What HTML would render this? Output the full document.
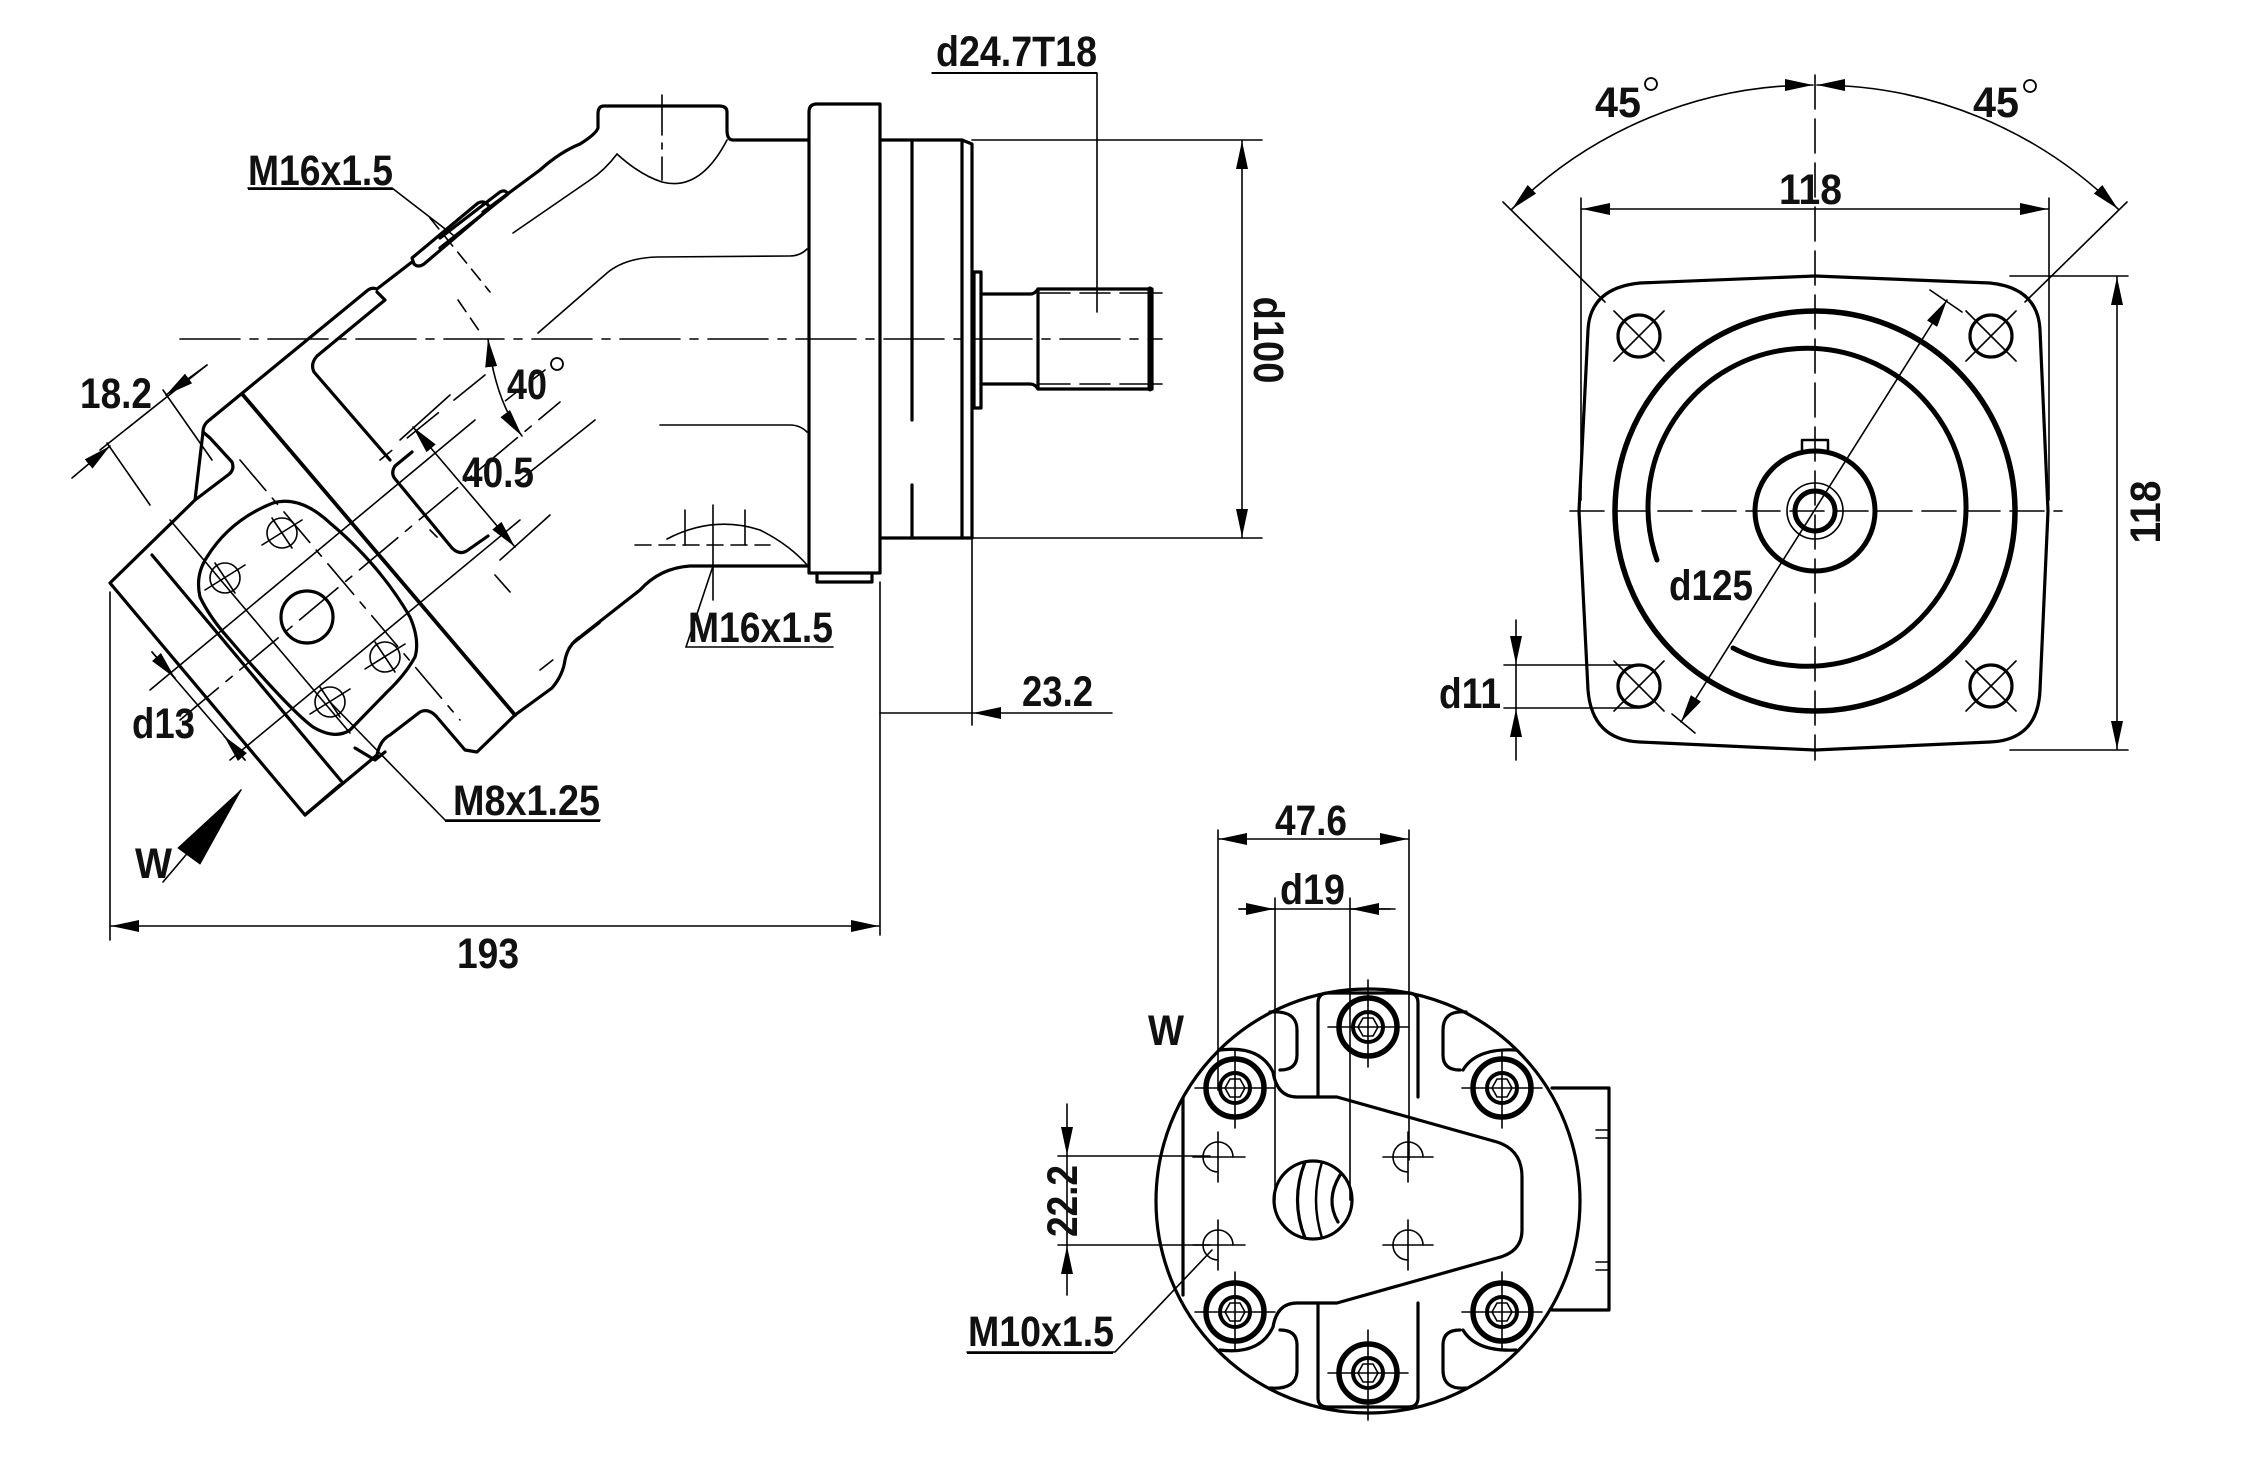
<!DOCTYPE html>
<html><head><meta charset="utf-8"><style>
html,body{margin:0;padding:0;background:#fff}
svg{display:block}
text{font-family:"Liberation Sans Narrow","Liberation Sans",sans-serif;font-weight:bold;fill:#111}
</style></head><body>
<svg width="2259" height="1482" viewBox="0 0 2259 1482" xmlns="http://www.w3.org/2000/svg">
<defs>
<marker id="a" markerUnits="userSpaceOnUse" markerWidth="30" markerHeight="12" refX="28" refY="6" orient="auto-start-reverse"><path d="M0,0 L28,6 L0,12 z" fill="#000"/></marker>
</defs>
<g fill="none" stroke="#000" stroke-linecap="round" stroke-linejoin="round">

<g stroke-width="3.2">
<path d="M809,112 Q809,104 817,104 L880,104 L880,573 L809,573 Z"/>
<path d="M817,573 L817,582 L872,582 L872,573"/>
<path d="M880,140 L962,140 L962,538 L880,538"/>
<line x1="912" y1="140" x2="912" y2="420"/><line x1="912" y1="485" x2="912" y2="538"/>
<path d="M962,140 L972,144 L972,538 L962,538"/>
<path d="M974,272 L981,272 L981,408 L974,408 Z"/>
<path d="M981,294 L1030,294 Q1035,294 1038,289 L1152,289 L1152,389 L1038,389 Q1035,384 1030,384 L981,384"/>
<line x1="1038" y1="289" x2="1038" y2="389"/>
<line x1="1150" y1="289" x2="1150" y2="389" stroke-width="5"/>
</g>
<g stroke-width="1.6">
<line x1="972" y1="140" x2="1262" y2="140"/><line x1="972" y1="538" x2="1262" y2="538"/>
<line x1="1152" y1="293" x2="1162" y2="293"/><line x1="1152" y1="384" x2="1162" y2="384"/>
<line x1="1040" y1="293" x2="1150" y2="293" stroke-dasharray="30,10"/>
<line x1="1040" y1="384" x2="1150" y2="384" stroke-dasharray="30,10"/>
<line x1="180" y1="339" x2="1162" y2="339" stroke-dasharray="60,10,8,10"/>
<polyline points="932,73 1097,73 1097,312"/>
<line x1="1242" y1="141" x2="1242" y2="537" marker-start="url(#a)" marker-end="url(#a)"/>
<line x1="880" y1="582" x2="880" y2="935"/><line x1="972" y1="538" x2="972" y2="725"/>
<line x1="880" y1="713" x2="972" y2="713"/>
<line x1="1112" y1="713" x2="973" y2="713" marker-end="url(#a)"/>
<line x1="110" y1="592" x2="110" y2="940"/>
<line x1="111" y1="926" x2="879" y2="926" marker-start="url(#a)" marker-end="url(#a)"/>
</g>

<g stroke-width="3.2">
<path d="M809,140 L733,140 Q727,140 727,130 L727,112 Q727,106 719,106 L604,106 Q598,106 598,114 L598,128 Q596,134 580,144 Q560,152 540,170 L483,212"/>
<path d="M412,258 L478,203 Q484,200 488,205 L490,208 L424,264 Q418,268 414,264 Z"/>
<path d="M440,238 L500,192 Q505,189 508,194 L440,248"/>
<path d="M412,262 L377,289 Q372,287 368,290 L207,422 Q203,426 203,432 L195,500 L110,583 L305,815 L340,785"/>
<path d="M243,395 L515,715" stroke-width="3.8"/>
<path d="M152,555 L342,782"/>
<path d="M203,432 L210,438 L232,462 Q235,470 228,475 L195,500"/>
<path d="M377,292 L385,300 L317,356 Q310,364 314,372 L390,460"/>
<path d="M412,452 L395,466 Q390,474 396,480 L452,548 Q460,556 468,550 L488,536"/>
<path d="M305,815 L377,755 Q380,740 390,735 L420,712 Q428,708 436,716 L465,750 L477,752 L515,715 L552,688 Q563,675 565,660 Q568,645 580,637 L640,590 Q660,568 690,566 L809,566"/>
<path d="M273,503 Q300,495 330,523 Q380,565 410,617 Q420,640 415,657 Q405,675 387,692 L350,730 Q335,740 313,727 Q290,710 230,640 Q210,618 200,597 Q195,575 207,557 Q230,520 273,503 Z"/>
<circle cx="307" cy="617" r="26"/>
<path d="M355,748 L375,760 L385,752"/>
</g>
<g stroke-width="1.6">
<circle cx="282" cy="533" r="15"/><circle cx="225" cy="578" r="15"/><circle cx="385" cy="657" r="15"/><circle cx="330" cy="702" r="15"/>
<path d="M262,545 L302,520 M272,518 L292,548 M205,590 L245,565 M215,563 L235,593 M365,669 L405,644 M375,642 L395,672 M310,714 L350,689 M320,687 L340,717"/>
<line x1="180" y1="720" x2="560" y2="402" stroke-dasharray="50,10,8,10"/>
<line x1="230" y1="760" x2="520" y2="520"/>
<line x1="150" y1="690" x2="475" y2="420"/>
<line x1="240" y1="460" x2="460" y2="720" stroke-dasharray="40,10,8,10"/>
<line x1="170" y1="520" x2="350" y2="733"/>
<path d="M807,249 Q800,256 790,256 L657,257 Q625,258 607,273 L538,333"/>
<path d="M807,432 Q800,425 790,425 L660,425"/>
<path d="M513,233 L590,180 Q605,170 617,154"/>
<path d="M617,154 Q640,175 662,182 Q700,192 727,140"/>
<line x1="662" y1="95" x2="662" y2="180" stroke-dasharray="40,8,6,8"/>
<path d="M667,539 Q713,515 760,530 Q790,545 808,566"/>
<line x1="713" y1="505" x2="713" y2="600"/>
<line x1="685" y1="510" x2="685" y2="545"/><line x1="745" y1="510" x2="745" y2="545"/>
<line x1="635" y1="545" x2="770" y2="545" stroke-dasharray="16,8"/>
<line x1="600" y1="623" x2="540" y2="670" stroke-dasharray="40,20"/>
<line x1="485" y1="375" x2="380" y2="460" stroke-dasharray="40,20"/>
<line x1="595" y1="420" x2="520" y2="480"/>
<line x1="545" y1="370" x2="500" y2="405" stroke-dasharray="20,10"/>
<line x1="430" y1="530" x2="440" y2="540" stroke-dasharray="10,6"/>
<line x1="495" y1="575" x2="510" y2="592"/>
<line x1="458" y1="300" x2="482" y2="335" stroke-dasharray="14,8"/>
<line x1="430" y1="218" x2="490" y2="292" stroke-dasharray="14,8"/>
<polyline points="248,188 392,188 453,235"/>
<polyline points="686,647 833,647"/><line x1="686" y1="647" x2="713" y2="566"/>
<polyline points="600,820 445,820 330,702"/>
<line x1="100" y1="450" x2="207" y2="365"/>
<line x1="72" y1="478" x2="110" y2="446" marker-end="url(#a)"/>
<line x1="207" y1="365" x2="166" y2="395" marker-end="url(#a)"/>
<line x1="163" y1="390" x2="212" y2="460"/><line x1="107" y1="443" x2="150" y2="505"/>
<path d="M488,339 Q495,400 522,436" marker-start="url(#a)" marker-end="url(#a)"/>
<line x1="413" y1="427" x2="515" y2="547" marker-start="url(#a)" marker-end="url(#a)"/>
<line x1="400" y1="440" x2="450" y2="395"/><line x1="500" y1="560" x2="550" y2="515"/>
<line x1="152" y1="652" x2="245" y2="760"/>
<line x1="152" y1="652" x2="175" y2="678" marker-end="url(#a)"/>
<line x1="245" y1="760" x2="224" y2="736" marker-end="url(#a)"/>
<line x1="241" y1="790" x2="163" y2="882"/>
</g>
<path d="M241,790 L200,864 L178,848 Z" fill="#000" stroke="#000" stroke-width="1"/>

<g stroke-width="3.2">
<path d="M1815,276 L1640,283 Q1590,288 1588,330 L1579,511 L1588,690 Q1592,740 1640,742 L1815,750 L1990,742 Q2038,740 2040,690 L2048,511 L2040,330 Q2038,288 1990,283 Z"/>
<circle cx="1639" cy="336" r="21"/><circle cx="1991" cy="336" r="21"/><circle cx="1639" cy="686" r="21"/><circle cx="1991" cy="686" r="21"/>
<circle cx="1815" cy="511" r="200" stroke-width="5.5"/>
<path d="M1657,560 A159,159 0 1,1 1733,648" stroke-width="5"/>
<circle cx="1815" cy="511" r="60" stroke-width="5"/>
<circle cx="1815" cy="511" r="20" stroke-width="5"/>
<rect x="1802" y="440" width="26" height="12" stroke-width="2.5"/>
</g>
<g stroke-width="1.6">
<circle cx="1815" cy="511" r="28"/>
<path d="M1614,311 L1664,361 M1664,311 L1614,361 M1966,311 L2016,361 M2016,311 L1966,361 M1614,661 L1664,711 M1664,661 L1614,711 M1966,661 L2016,711 M2016,661 L1966,711"/>
<line x1="1815" y1="75" x2="1815" y2="760" stroke-dasharray="34,10"/>
<line x1="1570" y1="511" x2="2062" y2="511" stroke-dasharray="34,10"/>
<path d="M1512,209 A428,428 0 0,1 1813,85" marker-start="url(#a)" marker-end="url(#a)"/>
<path d="M1817,85 A428,428 0 0,1 2118,209" marker-start="url(#a)" marker-end="url(#a)"/>
<line x1="1503" y1="202" x2="1605" y2="302"/><line x1="2127" y1="202" x2="2025" y2="302"/>
<line x1="1581" y1="198" x2="1581" y2="500"/><line x1="2049" y1="198" x2="2049" y2="500"/>
<line x1="1582" y1="209" x2="2048" y2="209" marker-start="url(#a)" marker-end="url(#a)"/>
<line x1="2010" y1="276" x2="2128" y2="276"/><line x1="2010" y1="750" x2="2128" y2="750"/>
<line x1="2117" y1="277" x2="2117" y2="749" marker-start="url(#a)" marker-end="url(#a)"/>
<line x1="1947" y1="300" x2="1681" y2="722" marker-start="url(#a)" marker-end="url(#a)"/>
<line x1="1930" y1="290" x2="1962" y2="312"/><line x1="1672" y1="714" x2="1695" y2="733"/>
<line x1="1504" y1="665" x2="1640" y2="665"/><line x1="1504" y1="708" x2="1640" y2="708"/>
<line x1="1516" y1="620" x2="1516" y2="664" marker-end="url(#a)"/>
<line x1="1516" y1="760" x2="1516" y2="709" marker-end="url(#a)"/>
<line x1="1516" y1="665" x2="1516" y2="708"/>
</g>

<g stroke-width="3.2">
<circle cx="1368" cy="1201" r="212"/>
<path d="M1552,1088 L1609,1088 L1609,1310 L1552,1310"/>
<line x1="1183" y1="1098" x2="1183" y2="1295"/>
<path d="M1273,1072 Q1277,1097 1297,1097 L1337,1097 L1497,1142 Q1522,1150 1522,1177 L1522,1230 Q1522,1252 1497,1258 L1337,1303 L1297,1303 Q1277,1303 1273,1327"/>
<path d="M1318,1097 L1318,1003 Q1318,993 1328,993 L1408,993 Q1418,993 1418,1003 L1418,1097"/>
<path d="M1318,1303 L1318,1398 Q1318,1407 1328,1407 L1408,1407 Q1418,1407 1418,1398 L1418,1303"/>
<path d="M1270,1012 Q1297,1010 1297,1030 L1297,1055 Q1297,1070 1280,1070"/>
<path d="M1466,1012 Q1443,1010 1443,1030 L1443,1055 Q1443,1070 1460,1070"/>
<path d="M1270,1388 Q1297,1390 1297,1370 L1297,1345 Q1297,1330 1280,1330"/>
<path d="M1466,1388 Q1443,1390 1443,1370 L1443,1345 Q1443,1330 1460,1330"/>
<path d="M1220,1050 Q1260,1045 1273,1072"/><path d="M1516,1050 Q1476,1048 1463,1070"/>
<path d="M1220,1350 Q1260,1355 1273,1327"/><path d="M1516,1350 Q1476,1352 1463,1330"/>
<circle cx="1313" cy="1200" r="39"/>
<path d="M1305,1162 Q1290,1200 1305,1238"/><path d="M1322,1162 Q1310,1200 1322,1238" stroke-width="2.5"/><path d="M1340,1175 Q1325,1200 1338,1222"/>
<g stroke-width="5.5"><circle cx="1235" cy="1088" r="29"/><circle cx="1368" cy="1027" r="29"/><circle cx="1502" cy="1088" r="29"/><circle cx="1235" cy="1312" r="29"/><circle cx="1368" cy="1373" r="29"/><circle cx="1502" cy="1312" r="29"/></g>
<g stroke-width="4"><circle cx="1235" cy="1088" r="15"/><circle cx="1368" cy="1027" r="15"/><circle cx="1502" cy="1088" r="15"/><circle cx="1235" cy="1312" r="15"/><circle cx="1368" cy="1373" r="15"/><circle cx="1502" cy="1312" r="15"/></g>
</g>
<g stroke-width="1.6">
<path d="M1225,1088 L1230,1079 L1240,1079 L1245,1088 L1240,1097 L1230,1097 Z M1358,1027 L1363,1018 L1373,1018 L1378,1027 L1373,1036 L1363,1036 Z M1492,1088 L1497,1079 L1507,1079 L1512,1088 L1507,1097 L1497,1097 Z M1225,1312 L1230,1303 L1240,1303 L1245,1312 L1240,1321 L1230,1321 Z M1358,1373 L1363,1364 L1373,1364 L1378,1373 L1373,1382 L1363,1382 Z M1492,1312 L1497,1303 L1507,1303 L1512,1312 L1507,1321 L1497,1321 Z"/>
<path d="M1195,1088 H1275 M1235,1050 V1128 M1328,1027 H1408 M1368,980 V1067 M1462,1088 H1542 M1502,1050 V1128 M1195,1312 H1275 M1235,1272 V1350 M1328,1373 H1408 M1368,1330 V1420 M1462,1312 H1542 M1502,1272 V1350"/>
<path d="M1218,1172 A15,15 0 1,1 1233,1157 M1408,1172 A15,15 0 1,1 1423,1157 M1218,1260 A15,15 0 1,1 1233,1245 M1408,1260 A15,15 0 1,1 1423,1245"/>
<path d="M1193,1157 H1245 M1218,1132 V1182 M1383,1157 H1433 M1408,1132 V1182 M1193,1245 H1245 M1218,1220 V1270 M1383,1245 H1433 M1408,1220 V1270"/>
<path d="M1596,1130 H1608 M1596,1138 H1608 M1596,1262 H1608 M1596,1270 H1608"/>
<line x1="1218" y1="830" x2="1218" y2="1090"/><line x1="1409" y1="830" x2="1409" y2="1160"/>
<line x1="1219" y1="839" x2="1408" y2="839" marker-start="url(#a)" marker-end="url(#a)"/>
<line x1="1275" y1="898" x2="1275" y2="1200"/><line x1="1350" y1="898" x2="1350" y2="1200"/>
<line x1="1239" y1="909" x2="1395" y2="909"/>
<line x1="1239" y1="909" x2="1274" y2="909" marker-end="url(#a)"/>
<line x1="1390" y1="909" x2="1351" y2="909" marker-end="url(#a)"/>
<line x1="1058" y1="1156" x2="1210" y2="1156"/><line x1="1058" y1="1245" x2="1210" y2="1245"/>
<line x1="1067" y1="1104" x2="1067" y2="1155" marker-end="url(#a)"/>
<line x1="1067" y1="1295" x2="1067" y2="1246" marker-end="url(#a)"/>
<line x1="1067" y1="1156" x2="1067" y2="1245"/>
<polyline points="967,1352 1115,1352 1212,1250"/>
</g>
</g>

<g font-size="43">
<text x="936" y="66" textLength="161" lengthAdjust="spacingAndGlyphs">d24.7T18</text>
<text x="0" y="0" transform="translate(1254,340) rotate(90)" text-anchor="middle" textLength="87" lengthAdjust="spacingAndGlyphs">d100</text>
<text x="1022" y="706" textLength="71" lengthAdjust="spacingAndGlyphs">23.2</text>
<text x="248" y="185" textLength="145" lengthAdjust="spacingAndGlyphs">M16x1.5</text>
<text x="688" y="642" textLength="145" lengthAdjust="spacingAndGlyphs">M16x1.5</text>
<text x="453" y="815" textLength="147" lengthAdjust="spacingAndGlyphs">M8x1.25</text>
<text x="80" y="408" textLength="72" lengthAdjust="spacingAndGlyphs">18.2</text>
<text x="507" y="399" textLength="40" lengthAdjust="spacingAndGlyphs">40</text>
<text x="132" y="738" textLength="63" lengthAdjust="spacingAndGlyphs">d13</text>
<text x="135" y="878" textLength="37" lengthAdjust="spacingAndGlyphs">W</text>
<text x="457" y="968" textLength="62" lengthAdjust="spacingAndGlyphs">193</text>
<text x="462" y="487" textLength="72" lengthAdjust="spacingAndGlyphs">40.5</text>
<text x="1595" y="117" textLength="46" lengthAdjust="spacingAndGlyphs">45</text>
<text x="1973" y="117" textLength="46" lengthAdjust="spacingAndGlyphs">45</text>
<text x="1779" y="204" textLength="63" lengthAdjust="spacingAndGlyphs">118</text>
<text x="0" y="0" transform="translate(2160,512) rotate(-90)" text-anchor="middle" textLength="63" lengthAdjust="spacingAndGlyphs">118</text>
<text x="1669" y="600" textLength="84" lengthAdjust="spacingAndGlyphs">d125</text>
<text x="1439" y="708" textLength="62" lengthAdjust="spacingAndGlyphs">d11</text>
<text x="1275" y="835" textLength="72" lengthAdjust="spacingAndGlyphs">47.6</text>
<text x="1280" y="904" textLength="65" lengthAdjust="spacingAndGlyphs">d19</text>
<text x="1148" y="1045" textLength="36" lengthAdjust="spacingAndGlyphs">W</text>
<text x="0" y="0" transform="translate(1077,1201) rotate(-90)" text-anchor="middle" textLength="72" lengthAdjust="spacingAndGlyphs">22.2</text>
<text x="968" y="1346" textLength="146" lengthAdjust="spacingAndGlyphs">M10x1.5</text>
</g>
<g fill="none" stroke="#000" stroke-width="1.8">
<circle cx="557" cy="364" r="6"/><circle cx="1651" cy="84" r="6"/><circle cx="2030" cy="86" r="6"/>
</g>
<g stroke="#000" stroke-width="2">
<line x1="932" y1="73" x2="1097" y2="73"/>
<line x1="248" y1="189" x2="393" y2="189"/>
<line x1="445" y1="821" x2="600" y2="821"/>
<line x1="967" y1="1353" x2="1113" y2="1353"/>
</g>
</svg>
</body></html>
